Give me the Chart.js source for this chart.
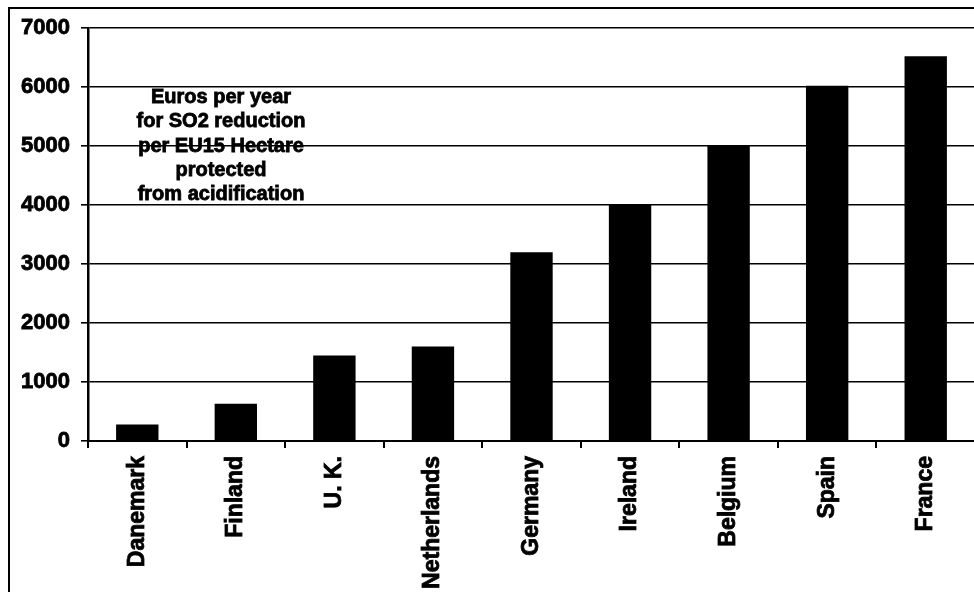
<!DOCTYPE html>
<html>
<head>
<meta charset="utf-8">
<script src="https://cdn.jsdelivr.net/npm/chart.js@4"></script>
<style>
  html, body { margin: 0; padding: 0; background: #fff; overflow: hidden; }
  #wrap { width: 974px; height: 592px; overflow: hidden; }
</style>
</head>
<body>
<div id="wrap"><canvas id="chart" width="980" height="600"></canvas></div>
<script>
// ===================== DATA =====================
const countries = ['Danemark', 'Finland', 'U. K.', 'Netherlands', 'Germany', 'Ireland', 'Belgium', 'Spain', 'France'];
const costs = [280, 630, 1450, 1600, 3200, 4000, 5000, 6020, 6520];
const yTicks = [0, 1000, 2000, 3000, 4000, 5000, 6000, 7000];
const noteLines = ['Euros per year', 'for SO2 reduction', 'per EU15 Hectare', 'protected', 'from acidification'];

const FONT = 'Liberation Sans, Arial, sans-serif';

// frame around the whole picture + the note text
const extras = {
  id: 'extras',
  beforeDraw(chart) {
    const ctx = chart.ctx;
    ctx.save();
    ctx.fillStyle = '#fff';
    ctx.fillRect(0, 0, chart.width, chart.height);
    ctx.strokeStyle = '#000';
    ctx.lineWidth = 2;
    ctx.strokeRect(9, 8, 1100, 800);
    ctx.restore();
  },
  afterDraw(chart) {
    const ctx = chart.ctx;
    ctx.save();
    ctx.fillStyle = '#000';
    ctx.strokeStyle = '#000';
    ctx.lineWidth = 0.8;
    ctx.font = 'bold 20px ' + FONT;
    ctx.textAlign = 'center';
    ctx.textBaseline = 'alphabetic';
    noteLines.forEach((t, i) => {
      ctx.fillText(t, 221, 103 + i * 24.3);
      ctx.strokeText(t, 221, 103 + i * 24.3);
    });
    ctx.restore();
  }
};

new Chart(document.getElementById('chart'), {
  type: 'bar',
  data: {
    labels: countries,
    datasets: [{
      data: costs,
      backgroundColor: '#000',
      borderWidth: 0,
      barPercentage: 0.43,
      categoryPercentage: 1
    }]
  },
  options: {
    responsive: false,
    animation: false,
    layout: { padding: { top: 28, right: 5, left: 0, bottom: 0 } },
    plugins: { legend: { display: false }, tooltip: { enabled: false } },
    scales: {
      x: {
        offset: true,
        grid: { offset: true, drawOnChartArea: false, drawTicks: true, tickLength: 7, color: '#000', lineWidth: 2 },
        border: { color: '#000', width: 2 },
        ticks: {
          color: '#000',
          font: { family: FONT, size: 23, weight: 'bold' },
          textStrokeColor: '#000',
          textStrokeWidth: 0.8,
          maxRotation: 90,
          minRotation: 90,
          padding: 8,
          autoSkip: false
        },
        afterFit(scale) { scale.height = 159; }
      },
      y: {
        min: 0,
        max: 7000,
        afterBuildTicks(scale) { scale.ticks = yTicks.map(v => ({ value: v })); },
        grid: { color: '#000', lineWidth: 1.6, tickLength: 7 },
        border: { color: '#000', width: 2.5 },
        ticks: {
          color: '#000',
          font: { family: FONT, size: 22, weight: 'bold' },
          textStrokeColor: '#000',
          textStrokeWidth: 0.8,
          padding: 11,
          callback: v => String(v)
        },
        afterFit(scale) { scale.width = 88; }
      }
    }
  },
  plugins: [extras]
});
</script>
</body>
</html>
